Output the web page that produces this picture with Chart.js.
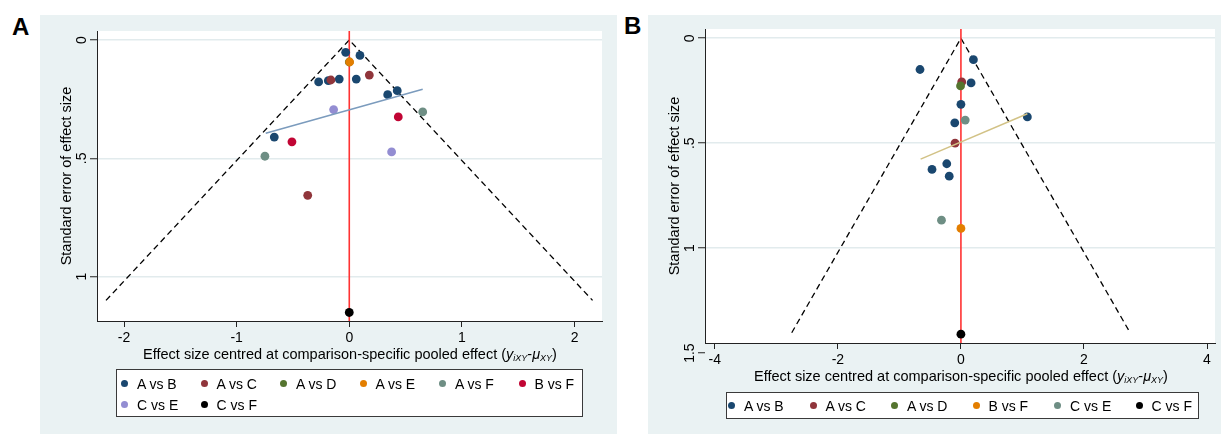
<!DOCTYPE html>
<html>
<head>
<meta charset="utf-8">
<title>Comparison-adjusted funnel plots</title>
<script src="https://cdn.jsdelivr.net/npm/chart.js"></script>
<style>
  body { margin:0; width:1221px; height:434px; background:#fff; position:relative; overflow:hidden;
         font-family:"Liberation Sans", Arial, sans-serif; color:#000; }
  .panel { position:absolute; background:#eaf2f3; }
  .panel canvas { position:absolute; left:0; top:0; }
  .tag { position:absolute; font-weight:bold; font-size:24px; line-height:24px; }
  .xtitle { position:absolute; font-size:14.5px; line-height:17px; white-space:nowrap; transform:translateX(-50%); }
  .xtitle sub { font-size:9px; vertical-align:-2px; }
  .legend { position:absolute; background:#fff; border:1px solid #3a3a3a; box-sizing:border-box; }
  .item { position:absolute; font-size:14px; line-height:16px; white-space:nowrap; }
  .dot { position:absolute; width:7px; height:7px; border-radius:50%; top:4px; }
</style>
</head>
<body>

<div class="tag" style="left:12px; top:15px;">A</div>
<div class="tag" style="left:624px; top:14px;">B</div>

<div class="panel" id="panelA" style="left:40px; top:15px; width:577px; height:419px;">
  <canvas id="chartA" width="577" height="345"></canvas>
  <div class="xtitle" style="left:310px; top:331px;">Effect size centred at comparison-specific pooled effect (<i>y<sub>iXY</sub></i>-<i>μ<sub>XY</sub></i>)</div>
  <div class="legend" id="legendA" style="left:76px; top:354px; width:467px; height:48px;"></div>
</div>

<div class="panel" id="panelB" style="left:648px; top:15px; width:573px; height:419px;">
  <canvas id="chartB" width="573" height="365"></canvas>
  <div class="xtitle" style="left:313px; top:353px;">Effect size centred at comparison-specific pooled effect (<i>y<sub>iXY</sub></i>-<i>μ<sub>XY</sub></i>)</div>
  <div class="legend" id="legendB" style="left:78px; top:377px; width:473px; height:27px;"></div>
</div>

<script>
// ---- panel A data ----
var aSeries = ['A vs B', 'A vs C', 'A vs D', 'A vs E', 'A vs F', 'B vs F', 'C vs E', 'C vs F'];
var aColors = ['#1a476f', '#90353b', '#55752f', '#e37e00', '#6e8e84', '#c10534', '#938dd2', '#000000'];
var aEffect = [
  [-0.032, 0.095, -0.272, -0.186, -0.089, 0.062, 0.341, 0.426, -0.666],
  [-0.163, 0.178, -0.369],
  [0.0],
  [0.003],
  [0.652, -0.749],
  [0.435, -0.509],
  [-0.139, 0.376],
  [0.0]
];
var aSE = [
  [0.052, 0.065, 0.177, 0.172, 0.165, 0.165, 0.231, 0.214, 0.410],
  [0.169, 0.148, 0.656],
  [0.093],
  [0.093],
  [0.304, 0.491],
  [0.325, 0.430],
  [0.294, 0.473],
  [1.151]
];
var aFitX = [-0.742, 0.652];
var aFitSE = [0.394, 0.208];
var aFunnelX = [-2.16, 0, 2.16];
var aFunnelSE = [1.10, 0, 1.10];
var aXTicks = [-2, -1, 0, 1, 2];
var aYTicks = [0, 0.5, 1];
var aXRange = [-2.24, 2.244];
var aYRange = [-0.038, 1.187];
var aFitColor = '#7b9bbd';

// ---- panel B data ----
var bSeries = ['A vs B', 'A vs C', 'A vs D', 'B vs F', 'C vs E', 'C vs F'];
var bColors = ['#1a476f', '#90353b', '#55752f', '#e37e00', '#6e8e84', '#000000'];
var bEffect = [
  [0.203, -0.665, 0.165, 0.0, 1.08, -0.10, -0.23, -0.47, -0.19],
  [0.013, -0.095],
  [-0.006],
  [0.0],
  [0.07, -0.316],
  [0.0]
];
var bSE = [
  [0.102, 0.149, 0.213, 0.315, 0.375, 0.403, 0.598, 0.625, 0.657],
  [0.208, 0.500],
  [0.227],
  [0.906],
  [0.390, 0.867],
  [1.410]
];
var bFitX = [-0.655, 1.08];
var bFitSE = [0.576, 0.360];
var bFunnelX = [-2.75, 0, 2.75];
var bFunnelSE = [1.403, 0, 1.403];
var bXTicks = [-4, -2, 0, 2, 4];
var bYTicks = [0, 0.5, 1, 1.5];
var bXRange = [-4.16, 4.13];
var bYRange = [-0.044, 1.452];
var bFitColor = '#d2c286';

var FONT = '"Liberation Sans", Arial, sans-serif';

function seLabel(v) {
  if (v === 0) return '0';
  if (v === 0.5) return '.5';
  return String(v);
}

// white plot region, like Stata's plotregion
var plotBg = {
  id: 'plotBg',
  beforeDraw: function(chart) {
    var a = chart.chartArea, ctx = chart.ctx;
    ctx.save();
    ctx.fillStyle = '#ffffff';
    ctx.fillRect(a.left, a.top, a.right - a.left, a.bottom - a.top);
    ctx.restore();
  }
};

// vertical y tick labels (Stata draws them rotated)
var rotatedYTicks = {
  id: 'rotatedYTicks',
  afterDraw: function(chart) {
    var y = chart.scales.y, ctx = chart.ctx;
    ctx.save();
    ctx.font = '14px ' + FONT;
    ctx.fillStyle = '#000';
    ctx.textAlign = 'center';
    ctx.textBaseline = 'middle';
    y.ticks.forEach(function(t) {
      var py = y.getPixelForValue(t.value);
      ctx.save();
      ctx.translate(42, py);
      ctx.rotate(-Math.PI / 2);
      ctx.fillText(seLabel(t.value), 0, 0);
      ctx.restore();
    });
    ctx.restore();
  }
};

function makeChart(id, p) {
  var datasets = [];
  // fitted line on top
  datasets.push({
    type: 'line', label: 'fit',
    data: p.fitX.map(function(x, i) { return { x: x, y: p.fitSE[i] }; }),
    borderColor: p.fitColor, borderWidth: 1.5, pointRadius: 0, showLine: true, order: 0
  });
  p.series.forEach(function(name, s) {
    datasets.push({
      type: 'scatter', label: name,
      data: p.effect[s].map(function(x, i) { return { x: x, y: p.se[s][i] }; }),
      backgroundColor: p.colors[s], borderColor: p.colors[s], borderWidth: 0,
      pointRadius: 4.4, pointHoverRadius: 4.4,
      order: 1 + (p.series.length - s)
    });
  });
  datasets.push({
    type: 'line', label: 'funnel',
    data: p.funnelX.map(function(x, i) { return { x: x, y: p.funnelSE[i] }; }),
    borderColor: '#000', borderWidth: 1.3, borderDash: [6, 4], pointRadius: 0, showLine: true, order: 50
  });
  datasets.push({
    type: 'line', label: 'null',
    data: [{ x: 0, y: p.yRange[0] }, { x: 0, y: p.yRange[1] }],
    borderColor: '#ff3333', borderWidth: 1.6, pointRadius: 0, showLine: true, order: 40
  });

  return new Chart(document.getElementById(id).getContext('2d'), {
    type: 'scatter',
    data: { datasets: datasets },
    plugins: [plotBg, rotatedYTicks],
    options: {
      responsive: false,
      animation: false,
      events: [],
      layout: { padding: { left: 0, top: p.padTop, right: p.padRight, bottom: 0 } },
      plugins: { legend: { display: false }, tooltip: { enabled: false } },
      scales: {
        x: {
          type: 'linear', min: p.xRange[0], max: p.xRange[1],
          afterBuildTicks: function(sc) { sc.ticks = p.xTicks.map(function(v) { return { value: v }; }); },
          afterFit: function(sc) { sc.height = p.xAxisH; },
          grid: { drawOnChartArea: false, tickLength: 6, tickColor: '#222', tickWidth: 1 },
          border: { display: true, color: '#222', width: 1 },
          ticks: { color: '#000', font: { family: FONT, size: 14 }, padding: 3, maxRotation: 0,
                   callback: function(v) { return String(v); } }
        },
        y: {
          type: 'linear', reverse: true, min: p.yRange[0], max: p.yRange[1],
          afterBuildTicks: function(sc) { sc.ticks = p.yTicks.map(function(v) { return { value: v }; }); },
          afterFit: function(sc) { sc.width = 57; },
          grid: {
            color: function(c) { return (c.tick && c.tick.value > p.yRange[1]) ? 'rgba(0,0,0,0)' : '#e2ebed'; },
            lineWidth: 1.5, tickLength: 7, tickColor: '#222', tickWidth: 1
          },
          border: { display: true, color: '#222', width: 1 },
          ticks: { display: false },
          title: { display: true, text: 'Standard error of effect size', color: '#000',
                   font: { family: FONT, size: 14.5 }, padding: { top: 18, bottom: 0 } }
        }
      }
    }
  });
}

function makeLegend(id, series, colors, colW, padX, rowY, perRow) {
  var box = document.getElementById(id);
  series.forEach(function(name, i) {
    var col = i % perRow, row = Math.floor(i / perRow);
    var it = document.createElement('div');
    it.className = 'item';
    it.style.left = (padX + col * colW - 4) + 'px';
    it.style.top = (rowY[row] - 8) + 'px';
    var d = document.createElement('span');
    d.className = 'dot';
    d.style.left = '0px';
    d.style.background = colors[i];
    var t = document.createElement('span');
    t.textContent = name;
    t.style.marginLeft = '16px';
    it.appendChild(d);
    it.appendChild(t);
    box.appendChild(it);
  });
}

makeChart('chartA', {
  series: aSeries, colors: aColors, effect: aEffect, se: aSE,
  fitX: aFitX, fitSE: aFitSE, fitColor: aFitColor,
  funnelX: aFunnelX, funnelSE: aFunnelSE,
  xTicks: aXTicks, yTicks: aYTicks, xRange: aXRange, yRange: aYRange,
  padTop: 16, padRight: 15, xAxisH: 39
});
makeChart('chartB', {
  series: bSeries, colors: bColors, effect: bEffect, se: bSE,
  fitX: bFitX, fitSE: bFitSE, fitColor: bFitColor,
  funnelX: bFunnelX, funnelSE: bFunnelSE,
  xTicks: bXTicks, yTicks: bYTicks, xRange: bXRange, yRange: bYRange,
  padTop: 14, padRight: 6, xAxisH: 37
});

makeLegend('legendA', aSeries, aColors, 79.5, 8, [14, 35], 6);
makeLegend('legendB', bSeries, bColors, 81.5, 5, [13], 6);
</script>
</body>
</html>
